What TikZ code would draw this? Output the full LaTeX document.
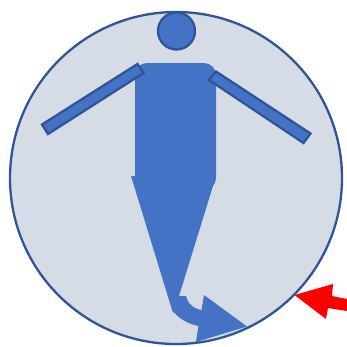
\documentclass[tikz,border=0pt]{standalone}
\usepackage{xcolor}
\definecolor{discfill}{HTML}{D6DCE5}
\definecolor{figblue}{HTML}{4472C4}
\definecolor{figline}{HTML}{2F5597}

\begin{document}
\begin{tikzpicture}[
    x=1pt, y=-1pt,
    disc/.style={circle, draw=figline, line width=2.3pt, fill=discfill, minimum size=332pt, inner sep=0pt},
    headshape/.style={circle, draw=figline, line width=2.3pt, fill=figblue, minimum size=37pt, inner sep=0pt},
    limb/.style={draw=figline, line width=2.3pt, fill=figblue},
    solid part/.style={fill=figblue},
    pointer/.style={fill=red}
]
\useasboundingbox (0,0) rectangle (347,346);

\node[disc] (disc) at (176,178) {};
\node[headshape] (head) at (176.5,31) {};

% body and skirt
\fill[solid part, rounded corners=12pt] (135,190) -- (135,63) -- (216,63) -- (216,190) -- cycle;
\fill[solid part] (131,176) -- (216,176) -- (213,186) -- (179,296) -- (173,313) -- cycle;

% arms
\draw[limb] (137.5,64) -- (143.5,73) -- (48,134) -- (42,124.5) -- cycle;
\draw[limb] (216,71.5) -- (209,80) -- (303.5,143) -- (310.5,133.5) -- cycle;

% bent arrow at the foot
\fill[solid part] (179,296) -- (186,296) .. controls (187,303) and (194,309) .. (201.5,310)
    -- (204,295) -- (247,326.5) -- (196,342) -- (198.5,326)
    .. controls (188,324) and (178,318) .. (173,311) -- cycle;

% red arrow
\fill[pointer] (294.5,295) -- (333,284) -- (332,296) -- (347,299) -- (347,311) -- (328,308) -- (326,319) -- cycle;
\end{tikzpicture}
\end{document}
